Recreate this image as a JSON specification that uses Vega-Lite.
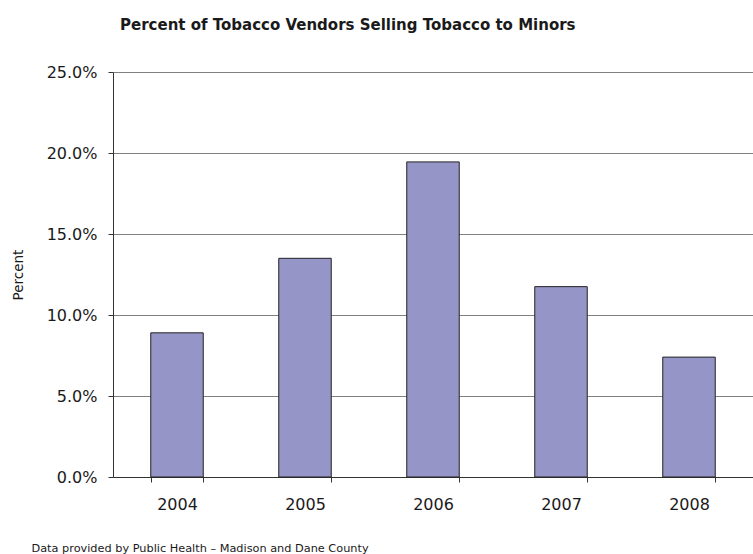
{
  "$schema": "https://vega.github.io/schema/vega-lite/v6.json",
  "width": 640,
  "height": 405,
  "autosize": {"type": "none"},
  "padding": {"left": 113, "top": 72, "right": 0, "bottom": 77},
  "background": "white",
  "title": {
    "text": "Percent of Tobacco Vendors Selling Tobacco to Minors",
    "font": "DejaVu Sans",
    "fontSize": 15,
    "fontWeight": "bold",
    "color": "#1a1a1a",
    "anchor": "start",
    "frame": "group",
    "dx": 7,
    "offset": 31
  },
  "data": {
    "values": [
      {"year": "2004", "pct": 0.089},
      {"year": "2005", "pct": 0.135},
      {"year": "2006", "pct": 0.1945},
      {"year": "2007", "pct": 0.1175},
      {"year": "2008", "pct": 0.074}
    ]
  },
  "config": {
    "view": {"stroke": null},
    "font": "DejaVu Sans"
  },
  "mark": {"type": "bar", "fill": "#9595c8", "stroke": "#222222", "strokeWidth": 1},
  "encoding": {
    "x": {
      "field": "year",
      "type": "ordinal",
      "scale": {"paddingInner": 0.59, "paddingOuter": 0.295},
      "axis": {
        "labelAngle": 0,
        "labelFontSize": 16,
        "labelColor": "#1a1a1a",
        "labelPadding": 14,
        "tickBand": "extent",
        "tickSize": 5,
        "tickColor": "#333333",
        "domainColor": "#333333",
        "title": "Data provided by Public Health \u2013 Madison and Dane County",
        "titleFontSize": 11.3,
        "titleFontWeight": "normal",
        "titleColor": "#1a1a1a",
        "titleAlign": "left",
        "titleAnchor": "start",
        "titleBaseline": "alphabetic",
        "titleX": -82,
        "titleY": 74
      }
    },
    "y": {
      "field": "pct",
      "type": "quantitative",
      "scale": {"domain": [0, 0.25]},
      "axis": {
        "values": [0, 0.05, 0.1, 0.15, 0.2, 0.25],
        "format": ".1%",
        "labelFontSize": 16,
        "labelColor": "#1a1a1a",
        "labelPadding": 11,
        "tickSize": 5,
        "tickColor": "#333333",
        "domainColor": "#333333",
        "gridColor": "#808080",
        "gridOpacity": 1,
        "title": "Percent",
        "titleFontSize": 13.5,
        "titleFontWeight": "normal",
        "titleColor": "#1a1a1a",
        "titlePadding": 21
      }
    }
  }
}
